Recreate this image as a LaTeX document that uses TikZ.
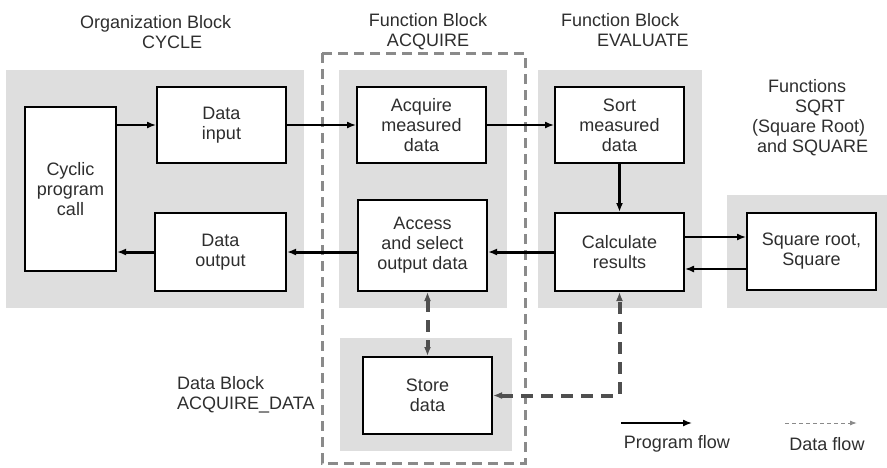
\documentclass[tikz,border=0pt]{standalone}
\usepackage{fontspec}
\setmainfont{Liberation Sans}
\usetikzlibrary{arrows.meta,calc}
\definecolor{bggray}{HTML}{DEDEDE}
\definecolor{txt}{HTML}{2E2E2E}
\definecolor{frame}{HTML}{8A8A8A}
\definecolor{dflow}{HTML}{4F4F4F}
\tikzset{
  bg/.style={fill=bggray},
  blk/.style={draw=black, line width=2pt, fill=white, align=center, inner sep=0pt, text=txt},
  ttl/.style={text=txt, inner sep=0pt},
  tip/.style={-{Latex[length=9pt,width=7pt]}},
  btip/.style={{Latex[length=9pt,width=7pt]}-{Latex[length=9pt,width=7pt]}},
  pflow/.style={line width=1.5pt, tip},
  pthick/.style={line width=3pt, tip},
  dflowthick/.style={draw=dflow, line width=4pt, dash pattern=on 12pt off 8pt, btip},
}
\begin{document}
\begin{tikzpicture}[x=1pt,y=-1pt, font=\fontsize{18}{20}\selectfont]
\useasboundingbox (0,0) rectangle (887,467);
% backgrounds
\fill[bg] (6,70) rectangle (304,308);
\fill[bg] (339,70) rectangle (507,308);
\fill[bg] (538,70) rectangle (702,308);
\fill[bg] (727,195) rectangle (887,308);
\fill[bg] (340,338) rectangle (512,451);
% dashed frame
\draw[frame, line width=3pt, dash pattern=on 10pt off 6pt] (322,53) rectangle (525,463);
% titles
\node[ttl, align=left, anchor=west] (tob) at (80,32) {Organization Block\\\hspace*{62pt}CYCLE};
\node[ttl, align=center] (tacq) at (428,32) {Function Block\\ACQUIRE};
\node[ttl, align=left, anchor=west] (tev) at (561,30) {Function Block\\\hspace*{36pt}EVALUATE};
\node[ttl, align=left, anchor=west] (tfn) at (752,118) {\hspace*{16pt}Functions\\\hspace*{43pt}SQRT\\(Square Root)\\\hspace*{5pt}and SQUARE};
\node[ttl, align=left, anchor=west] (tdb) at (177,395) {Data Block\\ACQUIRE\_DATA};
% boxes
\node[blk, minimum width=91pt, minimum height=164pt] (cyc) at (70.5,189) {Cyclic\\program\\call};
\node[blk, minimum width=129pt, minimum height=76pt] (din) at (221.5,125) {Data\\input};
\node[blk, minimum width=131pt, minimum height=78pt] (dout) at (220.5,252) {Data\\output};
\node[blk, minimum width=129pt, minimum height=76pt] (acq) at (421.5,125) {Acquire\\measured\\data};
\node[blk, minimum width=129pt, minimum height=91pt] (acc) at (422.5,245.5) {Access\\and select\\output data};
\node[blk, minimum width=129pt, minimum height=76pt] (sort) at (619.5,125) {Sort\\measured\\data};
\node[blk, minimum width=129pt, minimum height=78pt] (calc) at (619.5,252) {Calculate\\results};
\node[blk, minimum width=129pt, minimum height=77pt] (sq) at (811.5,251.5) {Square root,\\Square};
\node[blk, minimum width=129pt, minimum height=77pt] (store) at (427.5,395.5) {Store\\data};
% program flow
\draw[pflow] (cyc.east |- din.west) -- (din.west);
\draw[pflow] (din.east) -- (acq.west);
\draw[pflow] (acq.east) -- (sort.west);
\draw[pthick] (sort.south) -- (calc.north);
\draw[pflow] ([yshift=15pt]calc.east) -- ([yshift=15pt]calc.east -| sq.west);
\draw[pflow] ([yshift=-17pt]calc.east -| sq.west) -- ([yshift=-17pt]calc.east);
\draw[pthick] (calc.west) -- (calc.west -| acc.east);
\draw[pthick] (acc.west |- dout.east) -- (dout.east);
\draw[pthick] (dout.west) -- (dout.west -| cyc.east);
% data flow
\draw[dflowthick] (store.north |- acc.south) -- (store.north);
\draw[dflowthick] (store.east) -- (calc.south |- store.east) -- (calc.south);
% legend
\coordinate (pf1) at (621,423);
\coordinate (pf2) at (692,423);
\coordinate (df1) at (785,423);
\coordinate (df2) at (857,423);
\draw[pflow] (pf1) -- (pf2);
\draw[frame, line width=1pt, dash pattern=on 4pt off 3pt, -{Latex[length=7pt,width=5pt]}] (df1) -- (df2);
\node[ttl] (lpf) at (677,444) {Program flow};
\node[ttl] (ldf) at (827,444) {Data flow};
\end{tikzpicture}
\end{document}
